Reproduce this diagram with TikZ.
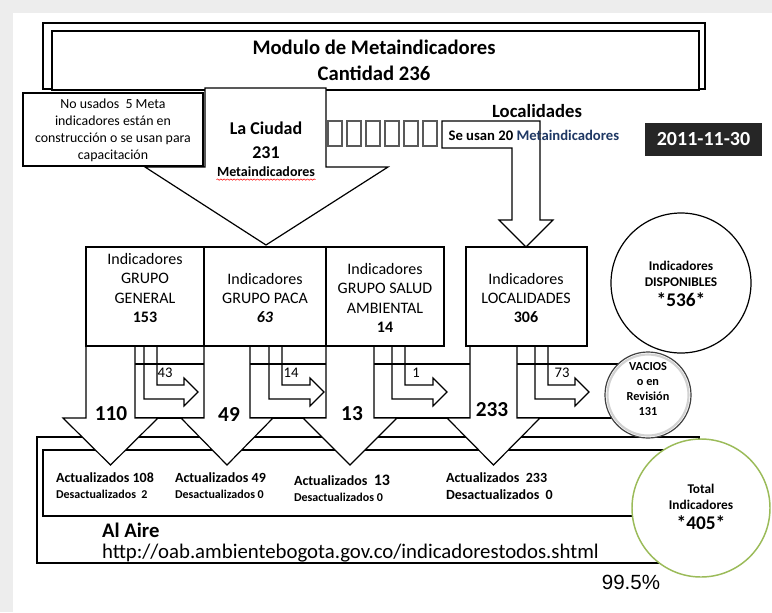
\documentclass[tikz,border=0pt]{standalone}
\usepackage{fontspec}
\setmainfont{Carlito}
\newfontfamily\arialfont{Liberation Sans}
\usetikzlibrary{decorations.pathmorphing}

\definecolor{navytxt}{RGB}{31,56,100}
\definecolor{totalgreen}{RGB}{155,187,89}

\tikzset{
    blk/.style={draw, fill=white, line width=0.9pt},
    grptxt/.style={align=center, font=\fontsize{12}{14.6}\selectfont},
    numtxt/.style={font=\bfseries\fontsize{16}{18}\selectfont},
    bendtxt/.style={font=\fontsize{11}{13}\selectfont},
    acttxt/.style={anchor=west, font=\bfseries\fontsize{10.5}{12}\selectfont},
    desactxt/.style={anchor=west, font=\bfseries\fontsize{9}{11}\selectfont},
    circtxt/.style={align=center, font=\bfseries\fontsize{10}{11.5}\selectfont}
}

\begin{document}
\begin{tikzpicture}[x=0.75pt, y=-0.75pt, line width=0.9pt]
    \useasboundingbox (0,0) rectangle (772,612);
    \fill[gray!14] (0,0) rectangle (772,612);
    \fill[white] (13,13) rectangle (772,612);

    % Modulo de Metaindicadores
    \draw (43,23) rectangle (705,89);
    \draw[fill=white] (52,31) rectangle (699,90);
    \node[align=center, font=\bfseries\fontsize{15.5}{19.5}\selectfont]
        (modulo) at (374,60) {Modulo de Metaindicadores\\Cantidad 236};

    % La Ciudad
    \draw[blk] (205,88) -- (326,88) -- (326,167) -- (388,167) --
        (266,245) -- (145,167) -- (205,167) -- cycle;
    \draw[blk] (23,93) rectangle (203,166);
    \node[align=center, font=\fontsize{10.4}{12.75}\selectfont] (nousados)
        at (113,130) {No usados\ \ 5 Meta\\indicadores están en\\
        construcción o se usan para\\capacitación};
    \node[align=center, font=\bfseries\fontsize{13.5}{18}\selectfont]
        (ciudad) at (266,140) {La Ciudad\\231};
    \node[font=\bfseries\fontsize{10.5}{12}\selectfont, inner sep=0pt]
        (metaciudad) at (266,172) {Metaindicadores};
    \draw[red, line width=0.4pt, decorate,
        decoration={snake, amplitude=0.5pt, segment length=2.5pt}]
        ([yshift=-1.5pt]metaciudad.south west) --
        ([yshift=-1.5pt]metaciudad.south east);

    % empty boxes
    \foreach \i in {0,...,5}
        \draw[black!65, line width=1.1pt] (328 + 19 * \i,121) rectangle
            ++(14,25);

    % Localidades
    \node[font=\bfseries\fontsize{14}{16}\selectfont] (localidades)
        at (537,111) {Localidades};
    \draw[blk] (442,121) -- (540,121) -- (540,220) -- (553,220) --
        (526,247) -- (499,220) -- (512,220) -- (512,148) -- (442,148) --
        cycle;
    \node[anchor=west, inner sep=0pt, font=\bfseries\fontsize{11}{13}\selectfont]
        (seusan) at (448,135) {Se usan 20 \textcolor{navytxt}{Metaindicadores}};

    % fecha
    \node[fill=black!85, text=white, inner sep=0pt, minimum width=87.75pt,
        minimum height=24.75pt, font=\bfseries\fontsize{15}{18}\selectfont]
        (fecha) at (703.5,139.5) {2011-11-30};

    % Al Aire
    \draw (37,437) rectangle (699,563);
    \draw (43,450) rectangle (699,516);

    % band under the groups
    \draw (86,364) -- (640,364);
    \draw (86,418) -- (640,418);

    % big arrows
    \foreach \l/\r in {86/135, 204/250, 326/374, 470/517}
        \draw[blk] (\l,346) -- (\l,418) -- (\l - 23,418) --
            ({(\l + \r) / 2},465) -- (\r + 23,418) -- (\r,418) --
            (\r,346);

    % bent arrows
    \foreach \a/\h in {144/184, 269/310, 392/433, 535/575}
        \draw (\a,346) -- (\a,399) -- (\h,399) -- (\h,406) --
            (\h + 14,392) -- (\h,378) -- (\h,385) -- (\a + 13,385) --
            (\a + 13,346);

    % groups
    \draw[blk] (86,247) rectangle (204,346);
    \draw[blk] (204,247) rectangle (326,346);
    \draw[blk] (326,247) rectangle (444,346);
    \draw[blk] (466,247) rectangle (587,346);
    \node[grptxt] (general) at (145,288)
        {Indicadores\\GRUPO\\GENERAL\\\textbf{153}};
    \node[grptxt] (paca) at (265,298)
        {Indicadores\\GRUPO PACA\\\textbf{\textit{63}}};
    \node[grptxt] (salud) at (385,298)
        {Indicadores\\GRUPO SALUD\\AMBIENTAL\\\textbf{14}};
    \node[grptxt] (locs) at (526,298)
        {Indicadores\\LOCALIDADES\\\textbf{306}};

    \node[bendtxt] (n43) at (165,373) {43};
    \node[bendtxt] (n14) at (291,373) {14};
    \node[bendtxt] (n1) at (416,373) {1};
    \node[bendtxt] (n73) at (562,373) {73};

    \node[numtxt] (n110) at (111,414) {110};
    \node[numtxt] (n49) at (229,414) {49};
    \node[numtxt] (n13) at (352,414) {13};
    \node[numtxt] (n233) at (492,410) {233};

    % circles
    \draw[fill=white] (681,283) circle (70);
    \node[circtxt] (disp) at (681,274) {Indicadores\\DISPONIBLES};
    \node[font=\bfseries\fontsize{14.5}{16}\selectfont] (n536) at (681,300)
        {*536*};

    \draw[fill=white, draw=black!75] (648,395) circle (43);
    \draw[gray!35, line width=1.6pt] (648,395) circle (40.5);
    \node[align=center, font=\bfseries\fontsize{9.2}{11.25}\selectfont]
        (vacios) at (648,389) {VACIOS\\o en\\Revisión\\131};

    \draw[fill=white, draw=totalgreen, line width=1.1pt] (701,508) circle (69);
    \node[circtxt] (total) at (701,497) {Total\\Indicadores};
    \node[font=\bfseries\fontsize{14.5}{16}\selectfont] (n405) at (701,523)
        {*405*};

    % actualizados
    \node[acttxt] (act1) at (51,478) {Actualizados 108};
    \node[desactxt] (des1) at (51,494) {Desactualizados\ \ 2};
    \node[acttxt] (act2) at (170,478) {Actualizados 49};
    \node[desactxt] (des2) at (170,494) {Desactualizados 0};
    \node[acttxt] (act3) at (289,480)
        {Actualizados\ \ {\fontsize{12}{14}\selectfont 13}};
    \node[desactxt] (des3) at (289,497) {Desactualizados 0};
    \node[acttxt] (act4) at (441,478) {Actualizados\ \ 233};
    \node[acttxt] (des4) at (441,495) {Desactualizados\ \ 0};

    \node[anchor=west, font=\bfseries\fontsize{15.5}{18}\selectfont]
        (alaire) at (97,530) {Al Aire};
    \node[anchor=west, font=\fontsize{15.6}{18}\selectfont] (url)
        at (97,553) {http://oab.ambientebogota.gov.co/indicadorestodos.shtml};
    \node[font=\arialfont\fontsize{15.4}{18}\selectfont] (pct) at (631,582)
        {99.5\%};
\end{tikzpicture}
\end{document}
